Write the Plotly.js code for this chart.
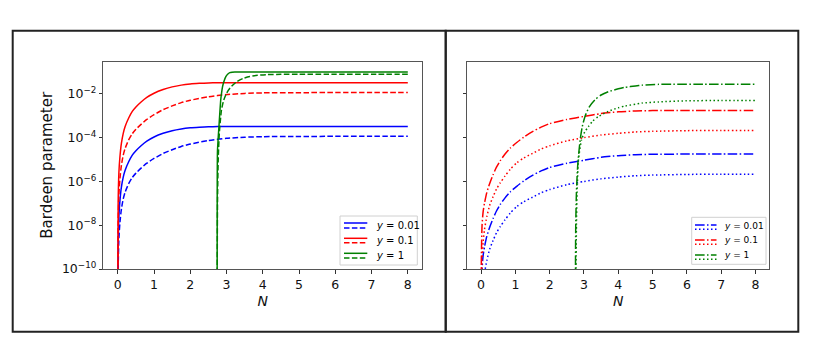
<!DOCTYPE html>
<html>
<head>
<meta charset="utf-8">
<script src="https://cdn.plot.ly/plotly-3.0.1.min.js"></script>
<style>
  body { margin: 0; background: #fff; }
  #chart { width: 830px; height: 362px; }
</style>
</head>
<body>
<div id="chart"></div>
<script>
// values (Bardeen parameter vs N)

// left panel: solid and dashed curves
var nSolid = [0, 0.01, 0.03, 0.06, 0.1, 0.15, 0.2, 0.3, 0.4, 0.5, 0.65, 0.8, 1.0, 1.25, 1.5, 1.75, 2.0, 2.25, 2.5, 2.75, 3, 4, 5, 6, 7, 8];
var redSolid = [1e-12, 1e-7, 2.5e-6, 1.41e-5, 5.6e-5, 1.58e-4, 3.16e-4, 7.9e-4, 1.58e-3, 2.51e-3, 4.37e-3, 6.9e-3, 1.07e-2, 1.58e-2, 2.09e-2, 2.51e-2, 2.82e-2, 3.02e-2, 3.16e-2, 3.24e-2, 3.24e-2, 3.24e-2, 3.24e-2, 3.24e-2, 3.24e-2, 3.24e-2];
var blueSolid = [1e-14, 1e-9, 2.5e-8, 1.41e-7, 5.6e-7, 1.58e-6, 3.16e-6, 7.9e-6, 1.58e-5, 2.51e-5, 4.37e-5, 6.9e-5, 1.07e-4, 1.58e-4, 2.09e-4, 2.51e-4, 2.82e-4, 3.02e-4, 3.16e-4, 3.2e-4, 3.2e-4, 3.2e-4, 3.2e-4, 3.2e-4, 3.2e-4, 3.2e-4];

var nDashed = [0, 0.01, 0.03, 0.06, 0.1, 0.15, 0.2, 0.3, 0.4, 0.5, 0.65, 0.8, 1.0, 1.25, 1.5, 1.75, 2.0, 2.5, 3.0, 3.5, 4, 5, 6, 7, 8];
var redDashed = [1e-12, 1e-8, 2.5e-7, 1.41e-6, 5.6e-6, 1.58e-5, 3.16e-5, 7.9e-5, 1.51e-4, 2.4e-4, 4.17e-4, 6.8e-4, 1.12e-3, 1.9e-3, 2.82e-3, 3.98e-3, 5.1e-3, 7.4e-3, 9.3e-3, 1.05e-2, 1.11e-2, 1.135e-2, 1.15e-2, 1.15e-2, 1.15e-2];
var blueDashed = [1e-14, 1e-10, 2.5e-9, 1.41e-8, 5.6e-8, 1.58e-7, 3.16e-7, 7.9e-7, 1.51e-6, 2.4e-6, 4.17e-6, 6.8e-6, 1.12e-5, 1.9e-5, 2.82e-5, 3.98e-5, 5.1e-5, 7.4e-5, 9.3e-5, 1.05e-4, 1.11e-4, 1.135e-4, 1.15e-4, 1.15e-4, 1.15e-4];

var nGreenSolid = [2.74, 2.743, 2.75, 2.77, 2.79, 2.815, 2.84, 2.865, 2.89, 2.93, 2.98, 3.03, 3.09, 3.15, 3.23, 3.4, 4, 5, 6, 7, 8];
var greenSolid = [1e-12, 1e-6, 2.5e-5, 1e-4, 3.16e-4, 1.41e-3, 5.4e-3, 1.17e-2, 2.14e-2, 3.8e-2, 6.2e-2, 7.9e-2, 9.3e-2, 9.8e-2, 0.1, 0.1, 0.1, 0.1, 0.1, 0.1, 0.1];

var nGreenDash = [2.74, 2.75, 2.77, 2.8, 2.83, 2.86, 2.92, 3.0, 3.1, 3.28, 3.45, 3.64, 3.85, 4.1, 4.5, 5, 6, 7, 8];
var greenDashed = [1e-12, 1e-7, 1e-5, 1.58e-4, 6.3e-4, 1.86e-3, 5e-3, 1.07e-2, 1.9e-2, 3.6e-2, 5e-2, 6.2e-2, 7.1e-2, 7.6e-2, 7.8e-2, 7.85e-2, 7.85e-2, 7.85e-2, 7.85e-2];

// right panel: dash-dot and dotted curves
var nRight = [0, 0.01, 0.03, 0.06, 0.1, 0.17, 0.25, 0.35, 0.45, 0.56, 0.7, 0.85, 1.04, 1.25, 1.5, 1.75, 2.0, 2.5, 3.0, 3.5, 4, 4.5, 5, 6, 7, 8];
var redDashDot = [1e-12, 3.2e-10, 1e-8, 4e-8, 1e-7, 3.16e-7, 7.9e-7, 2e-6, 4.47e-6, 8.9e-6, 1.78e-5, 3.3e-5, 6e-5, 1.07e-4, 1.9e-4, 3.02e-4, 4.37e-4, 6.8e-4, 9.3e-4, 1.26e-3, 1.51e-3, 1.66e-3, 1.72e-3, 1.74e-3, 1.74e-3, 1.74e-3];
var blueDashDot = [1e-14, 3.2e-12, 1e-10, 4e-10, 1e-9, 3.16e-9, 7.9e-9, 2e-8, 4.47e-8, 8.9e-8, 1.78e-7, 3.3e-7, 6e-7, 1.07e-6, 1.9e-6, 3.02e-6, 4.37e-6, 6.8e-6, 9.3e-6, 1.26e-5, 1.51e-5, 1.66e-5, 1.74e-5, 1.78e-5, 1.8e-5, 1.8e-5];
var redDotted = [1e-12, 1e-11, 2.5e-10, 1.58e-9, 6.3e-9, 2.5e-8, 7.9e-8, 2e-7, 4.47e-7, 8.7e-7, 1.78e-6, 3.55e-6, 7.1e-6, 1.2e-5, 1.9e-5, 3.02e-5, 4.27e-5, 7.1e-5, 1e-4, 1.32e-4, 1.58e-4, 1.82e-4, 1.95e-4, 2.09e-4, 2.14e-4, 2.14e-4];
var blueDotted = [1e-14, 1e-13, 2.5e-12, 1.58e-11, 6.3e-11, 2.5e-10, 7.9e-10, 2e-9, 4.47e-9, 8.7e-9, 1.78e-8, 3.55e-8, 7.1e-8, 1.2e-7, 1.9e-7, 3.02e-7, 4.27e-7, 7.1e-7, 1e-6, 1.32e-6, 1.58e-6, 1.82e-6, 1.95e-6, 2.09e-6, 2.14e-6, 2.14e-6];

var nGreenDashDot = [2.75, 2.755, 2.76, 2.78, 2.82, 2.89, 2.95, 3.03, 3.15, 3.32, 3.5, 3.71, 4.0, 4.2, 4.5, 4.69, 5.18, 5.6, 6.5, 8];
var greenDashDot = [1e-12, 1e-9, 1e-8, 3.2e-7, 6.3e-6, 8.1e-5, 3.2e-4, 9.3e-4, 2.5e-3, 5.4e-3, 8.9e-3, 1.26e-2, 1.7e-2, 2e-2, 2.3e-2, 2.5e-2, 2.72e-2, 2.75e-2, 2.75e-2, 2.75e-2];

var nGreenDot = [2.76, 2.78, 2.8, 2.84, 2.93, 3.02, 3.13, 3.25, 3.42, 3.71, 4.0, 4.2, 4.69, 5.18, 5.96, 7, 8];
var greenDotted = [1e-12, 1e-8, 3.2e-7, 1e-5, 8.1e-5, 1.78e-4, 3.2e-4, 5.6e-4, 9.3e-4, 1.58e-3, 2.34e-3, 2.8e-3, 3.8e-3, 4.3e-3, 4.8e-3, 5e-3, 5e-3];

var legendLabels = ["<i>y</i> = 0.01", "<i>y</i> = 0.1", "<i>y</i> = 1"];
var colours = ["#0000ff", "#ff0000", "#008000"];
var xTickVals = [0, 1, 2, 3, 4, 5, 6, 7, 8];
var yTickVals = [1e-10, 1e-8, 1e-6, 1e-4, 1e-2];
var yTickText = ["10<sup>−10</sup>", "10<sup>−8</sup>", "10<sup>−6</sup>", "10<sup>−4</sup>", "10<sup>−2</sup>"];

// matplotlib-like dash patterns
var DASH = "5.5px,2.4px";
var DASHDOT = "9.6px,2.4px,1.5px,2.4px";
var DOT = "1.5px,2.5px";

function curve(x, y, colour, dash, xa, ya) {
    return {
        x: x, y: y, xaxis: xa, yaxis: ya,
        type: "scatter", mode: "lines",
        line: { color: colour, width: 1.5, dash: dash, shape: "spline", smoothing: 0.6 },
        showlegend: false, hoverinfo: "skip"
    };
}

var data = [
    curve(nSolid, blueSolid, colours[0], "solid", "x", "y"),
    curve(nDashed, blueDashed, colours[0], DASH, "x", "y"),
    curve(nSolid, redSolid, colours[1], "solid", "x", "y"),
    curve(nDashed, redDashed, colours[1], DASH, "x", "y"),
    curve(nGreenSolid, greenSolid, colours[2], "solid", "x", "y"),
    curve(nGreenDash, greenDashed, colours[2], DASH, "x", "y"),

    curve(nRight, blueDashDot, colours[0], DASHDOT, "x2", "y2"),
    curve(nRight, blueDotted, colours[0], DOT, "x2", "y2"),
    curve(nRight, redDashDot, colours[1], DASHDOT, "x2", "y2"),
    curve(nRight, redDotted, colours[1], DOT, "x2", "y2"),
    curve(nGreenDashDot, greenDashDot, colours[2], DASHDOT, "x2", "y2"),
    curve(nGreenDot, greenDotted, colours[2], DOT, "x2", "y2")
];

// page pixels -> paper coords (margins are zero)
var W = 830, H = 362;
function px(v) { return v / W; }
function py(v) { return 1 - v / H; }

var shapes = [];
var annotations = [];

// outer frames round each panel
shapes.push({ type: "rect", xref: "paper", yref: "paper", x0: px(12.7), x1: px(445.7), y0: py(331.7), y1: py(30.7), line: { color: "#222", width: 2 } });
shapes.push({ type: "rect", xref: "paper", yref: "paper", x0: px(445.7), x1: px(798.3), y0: py(331.7), y1: py(30.7), line: { color: "#222", width: 2 } });

// hand drawn legends, two line samples per entry
function legendBox(x0, x1, y0, y1, hx0, hx1, tx, rows, styleTop, styleBot, fsize) {
    shapes.push({ type: "rect", xref: "paper", yref: "paper", x0: px(x0), x1: px(x1), y0: py(y1), y1: py(y0), line: { color: "#d0d0d0", width: 1 }, fillcolor: "rgba(255,255,255,0.8)" });
    for (var i = 0; i < 3; i++) {
        var r = rows[i];
        shapes.push({ type: "line", xref: "paper", yref: "paper", x0: px(hx0), x1: px(hx1), y0: py(r[0]), y1: py(r[0]), line: { color: colours[i], width: 1.5, dash: styleTop } });
        shapes.push({ type: "line", xref: "paper", yref: "paper", x0: px(hx0), x1: px(hx1), y0: py(r[1]), y1: py(r[1]), line: { color: colours[i], width: 1.5, dash: styleBot } });
        annotations.push({ xref: "paper", yref: "paper", x: px(tx), y: py(r[2]), xanchor: "left", yanchor: "middle", showarrow: false, text: legendLabels[i], font: { size: fsize, color: "#000" } });
    }
}
legendBox(340, 417.3, 216, 265, 344, 367.3, 374, [[223, 228, 225], [238.3, 242.8, 240], [253.3, 258, 255]], "solid", DASH, 10);
legendBox(691.7, 766, 217.3, 264.3, 695, 716.5, 722, [[225, 229.3, 225.8], [240, 244.3, 240.3], [255, 259.3, 255.3]], DASHDOT, DOT, 9);

var axisCommon = {
    showgrid: false, zeroline: false,
    showline: true, mirror: true, linecolor: "#555", linewidth: 1,
    ticks: "outside", ticklen: 3.5, tickwidth: 1, tickcolor: "#333",
    tickfont: { size: 12.5, color: "#111" }
};

var layout = {
    width: W, height: H,
    margin: { l: 0, r: 0, t: 0, b: 0 },
    paper_bgcolor: "#fff", plot_bgcolor: "#fff",
    font: { family: "DejaVu Sans, sans-serif", color: "#111" },
    showlegend: false,
    xaxis: Object.assign({}, axisCommon, {
        domain: [px(103.3), px(422.3)], anchor: "y",
        range: [-0.4, 8.4], tickvals: xTickVals,
        title: { text: "<i>N</i>", font: { size: 14 }, standoff: 5 }
    }),
    yaxis: Object.assign({}, axisCommon, {
        domain: [py(269), py(61.7)], anchor: "x",
        type: "log", range: [-10, -0.53],
        tickvals: yTickVals, ticktext: yTickText,
        title: { text: "Bardeen parameter", font: { size: 15 }, standoff: 5 }
    }),
    xaxis2: Object.assign({}, axisCommon, {
        domain: [px(467.3), px(769.3)], anchor: "y2",
        range: [-0.4, 8.4], tickvals: xTickVals,
        title: { text: "<i>N</i>", font: { size: 14 }, standoff: 5 }
    }),
    yaxis2: Object.assign({}, axisCommon, {
        domain: [py(269), py(61.7)], anchor: "x2",
        type: "log", range: [-10, -0.53],
        tickvals: yTickVals, showticklabels: false
    }),
    shapes: shapes,
    annotations: annotations
};

Plotly.newPlot("chart", data, layout, { staticPlot: true, displayModeBar: false });
</script>
</body>
</html>
